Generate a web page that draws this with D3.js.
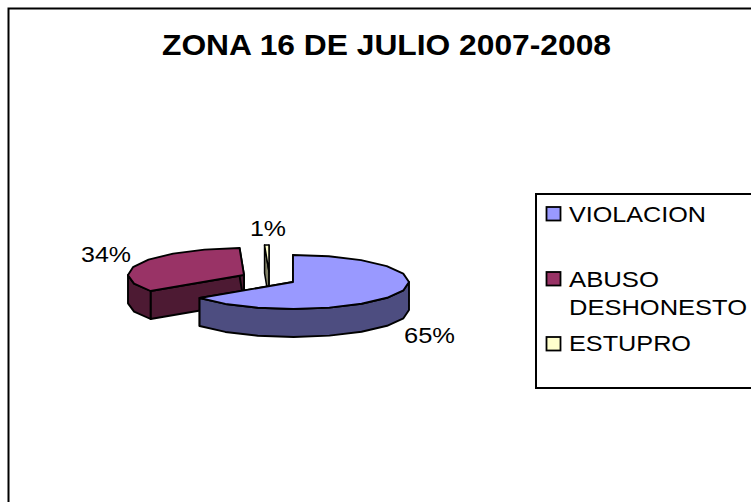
<!DOCTYPE html>
<html><head><meta charset="utf-8">
<script src="https://cdn.jsdelivr.net/npm/d3@7"></script>
<style>html,body{margin:0;padding:0;background:#fff}svg{display:block}text{font-family:"Liberation Sans",Arial,sans-serif}</style>
</head><body><svg id="c" width="751" height="502"></svg>
<script>
const titleText = "ZONA 16 DE JULIO 2007-2008";
const categories = ["VIOLACION", "ABUSO DESHONESTO", "ESTUPRO"];
const values = [64.9, 34.49, 0.61];
const labels = ["65%", "34%", "1%"];
const topColors = ["#9999ff", "#993366", "#ffffcc"];
const wallColors = ["#4d4d80", "#4d1a33", "#808066"];

const svg = d3.select("#c");
const rx = 116, ry = 27, depth = 28;
const centers = [[293,282],[244,275],[269,272]];
const labelBoxes = [[404,51,343],[81,50,262],[250,36,236]];

function stretched(sel,x,w,y,size){
  return sel.attr("x",x).attr("y",y).attr("font-size",size)
    .attr("textLength",w).attr("lengthAdjust","spacingAndGlyphs");
}

svg.append("rect").attr("x",8.5).attr("y",8.5).attr("width",760).attr("height",520)
  .attr("fill","#fff").attr("stroke","#000").attr("stroke-width",2);
stretched(svg.append("text"),162,449,55,30).attr("font-weight","bold").text(titleText);

const pie = d3.pie().sort(null).value(d=>d);
const arcs = pie(values);
const pt = (c,a,dz=0)=>[c[0]+rx*Math.sin(a), c[1]-ry*Math.cos(a)+dz];
const sample = (a0,a1)=>{
  const n = Math.max(1,Math.round((a1-a0)/(Math.PI/10)));
  const base = d3.range(0,n+1).map(i=>a0+(a1-a0)*i/n);
  // keep the widest points of the ellipse so that the rim wall meets the top face
  [Math.PI/2,3*Math.PI/2].forEach(t=>{ if(t>a0&&t<a1) base.push(t); });
  return base.sort((p,q)=>p-q);
};
const line = d3.line();

function drawSlice(i){
  const c = centers[i], a = arcs[i];
  const g = svg.append("g").attr("stroke","#000").attr("stroke-width",i===2?1.5:1.9).attr("stroke-linejoin","round");
  const as = sample(a.startAngle,a.endAngle);
  const wall = (pts)=>g.append("path").attr("d",line(pts)+"Z").attr("fill",wallColors[i]);
  [a.startAngle,a.endAngle].forEach(t=>{
    wall([[c[0],c[1]],pt(c,t),pt(c,t,depth),[c[0],c[1]+depth]]);
  });
  const front = as.filter(t=>Math.cos(t)<1e-9);
  if(front.length>1){
    wall(front.map(t=>pt(c,t)).concat(front.slice().reverse().map(t=>pt(c,t,depth))));
  }
  g.append("path").attr("d",line([c].concat(as.map(t=>pt(c,t))))+"Z").attr("fill",topColors[i]);
}
[2,1,0].forEach(drawSlice);

labels.forEach((t,i)=>stretched(svg.append("text"),labelBoxes[i][0],labelBoxes[i][1],labelBoxes[i][2],22).text(t));

// legend
svg.append("rect").attr("x",536).attr("y",194).attr("width",240).attr("height",194)
  .attr("fill","#fff").attr("stroke","#000").attr("stroke-width",2);
const legendSwatchY = [207,272,337];
const legendLines = [[["VIOLACION",137,222]],[["ABUSO",90,287],["DESHONESTO",178,315]],[["ESTUPRO",122,351]]];
legendLines.forEach((rows,i)=>{
  svg.append("rect").attr("x",546.5).attr("y",legendSwatchY[i]).attr("width",14).attr("height",13.5)
    .attr("fill",topColors[i]).attr("stroke","#000").attr("stroke-width",1.8);
  rows.forEach(r=>stretched(svg.append("text"),569,r[1],r[2],22).text(r[0]));
});
</script></body></html>
